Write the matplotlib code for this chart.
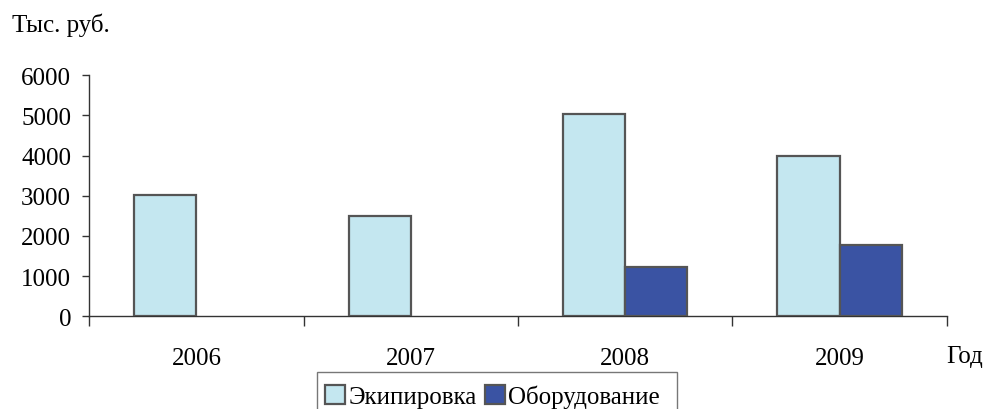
import numpy as np
import matplotlib
matplotlib.use("Agg")
import matplotlib.pyplot as plt
from matplotlib.patches import Rectangle

# данные с графика
years = ["2006", "2007", "2008", "2009"]
ekipirovka = [3020, 2490, 5030, 3980]
oborudovanie = [0, 0, 1230, 1770]
series_names = ["Экипировка", "Оборудование"]

plt.rcParams['font.family'] = ['Liberation Serif', 'DejaVu Serif']

fig = plt.figure(figsize=(9.83, 4.10), dpi=100)
ax = fig.add_axes([89.3 / 983, 1 - 317.3 / 410, (946.7 - 89.3) / 983, (317.3 - 76.1) / 410])

x = np.arange(len(years))
w = 0.29
edge = "#555555"
ax.bar(x - w / 2, ekipirovka, w, color="#c4e7f0", edgecolor=edge, linewidth=1.6,
       label=series_names[0], zorder=3)
# нулевые столбцы не рисуем
obo = np.array(oborudovanie, dtype=float)
mask = obo > 0
ax.bar(x[mask] + w / 2, obo[mask], w, color="#3a53a3", edgecolor=edge, linewidth=1.6,
       label=series_names[1], zorder=3)

ax.set_xlim(-0.5, len(years) - 0.5)
ax.set_ylim(0, 6000)
ax.set_yticks(np.arange(0, 6001, 1000))

# деления на границах категорий, подписи по центру
ax.set_xticks(np.arange(-0.5, len(years), 1.0))
ax.set_xticklabels([])
ax.set_xticks(x, minor=True)
ax.set_xticklabels(years, minor=True)
ax.tick_params(axis='x', which='major', direction='out', length=7, width=1, color="#333333")
ax.tick_params(axis='x', which='minor', length=0, pad=22, labelsize=18)
ax.tick_params(axis='y', direction='out', length=5, width=1, color="#333333", pad=8, labelsize=18)

for s in ["top", "right"]:
    ax.spines[s].set_visible(False)
for s in ["left", "bottom"]:
    ax.spines[s].set_color("#333333")
    ax.spines[s].set_linewidth(1.0)

fig.text(12 / 983, 1 - 25 / 410, "Тыс. руб.", fontsize=18, va="center", ha="left")
fig.text(946 / 983, 1 - 357 / 410, "Год", fontsize=18, va="center", ha="left")

# рамка легенды отдельно, низ уходит за край картинки
fig.patches.append(Rectangle((317 / 983, -0.1), (677 - 317) / 983, 0.1 + (410 - 373) / 410,
                             transform=fig.transFigure, fill=False, ec="#777777", lw=1.0))
leg = fig.legend(loc="upper left", bbox_to_anchor=(319 / 983, 1 - 379 / 410), ncol=2,
                 fontsize=18, frameon=False, handlelength=0.8, handleheight=0.8,
                 handletextpad=0.12, columnspacing=0.35, borderpad=0.25, borderaxespad=0)

fig.savefig("out.png", dpi=100)
